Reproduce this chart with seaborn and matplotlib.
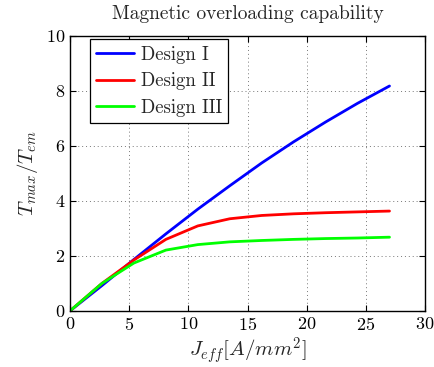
import numpy as np
import pandas as pd
import matplotlib
matplotlib.use("Agg")
import matplotlib.pyplot as plt
import seaborn as sns

# Current density samples [A/mm^2]
j_eff = [0.0, 2.7, 5.4, 8.1, 10.8, 13.5, 16.2, 18.9, 21.6, 24.3, 27.0]

# Torque ratio T_max / T_em for each design
design_1 = [0.0, 0.92, 1.87, 2.80, 3.70, 4.55, 5.38, 6.15, 6.87, 7.55, 8.18]
design_2 = [0.0, 1.00, 1.85, 2.60, 3.09, 3.35, 3.47, 3.53, 3.57, 3.60, 3.63]
design_3 = [0.0, 1.00, 1.74, 2.21, 2.41, 2.51, 2.56, 2.60, 2.63, 2.65, 2.68]

names = ["Design I", "Design II", "Design III"]
colors = ["#0000ff", "#ff0000", "#00ff00"]

df = pd.concat(
    [pd.DataFrame({"J": j_eff, "T": vals, "design": name})
     for name, vals in zip(names, [design_1, design_2, design_3])],
    ignore_index=True,
)

sns.set_style("ticks")
plt.rcParams["font.family"] = ["cmr10"]
plt.rcParams["mathtext.fontset"] = "cm"
plt.rcParams["axes.formatter.use_mathtext"] = True

fig = plt.figure(figsize=(4.35, 3.67), dpi=100)
ax = fig.add_axes([0.161, 0.153, 0.816, 0.749])

sns.lineplot(data=df, x="J", y="T", hue="design", palette=colors,
             linewidth=2, ax=ax, sort=False)

ax.set_xlim(0, 30)
ax.set_ylim(0, 10)
ax.set_xticks([0, 5, 10, 15, 20, 25, 30])
ax.set_yticks([0, 2, 4, 6, 8, 10])
ax.grid(True, linestyle=(0, (1, 3)), color="#777777", linewidth=0.7)
ax.tick_params(direction="in", top=True, right=True, labelsize=13,
               length=4, width=0.8, colors="black")
for s in ax.spines.values():
    s.set_visible(True)
    s.set_color("black")
    s.set_linewidth(1.0)

ax.set_title("Magnetic overloading capability", fontsize=14, pad=12)
ax.set_xlabel(r"$J_{eff}[A/mm^2]$", fontsize=15, labelpad=2)
ax.set_ylabel(r"$T_{max}/T_{em}$", fontsize=15, labelpad=4)

leg = ax.legend(loc="upper left", bbox_to_anchor=(0.056, 0.988), fontsize=13.5,
                frameon=True, fancybox=False, framealpha=1, edgecolor="black",
                borderpad=0.35, labelspacing=0.45, handlelength=2.0,
                handletextpad=0.35, borderaxespad=0)
leg.get_frame().set_linewidth(0.9)

fig.savefig("out.png", dpi=100)
